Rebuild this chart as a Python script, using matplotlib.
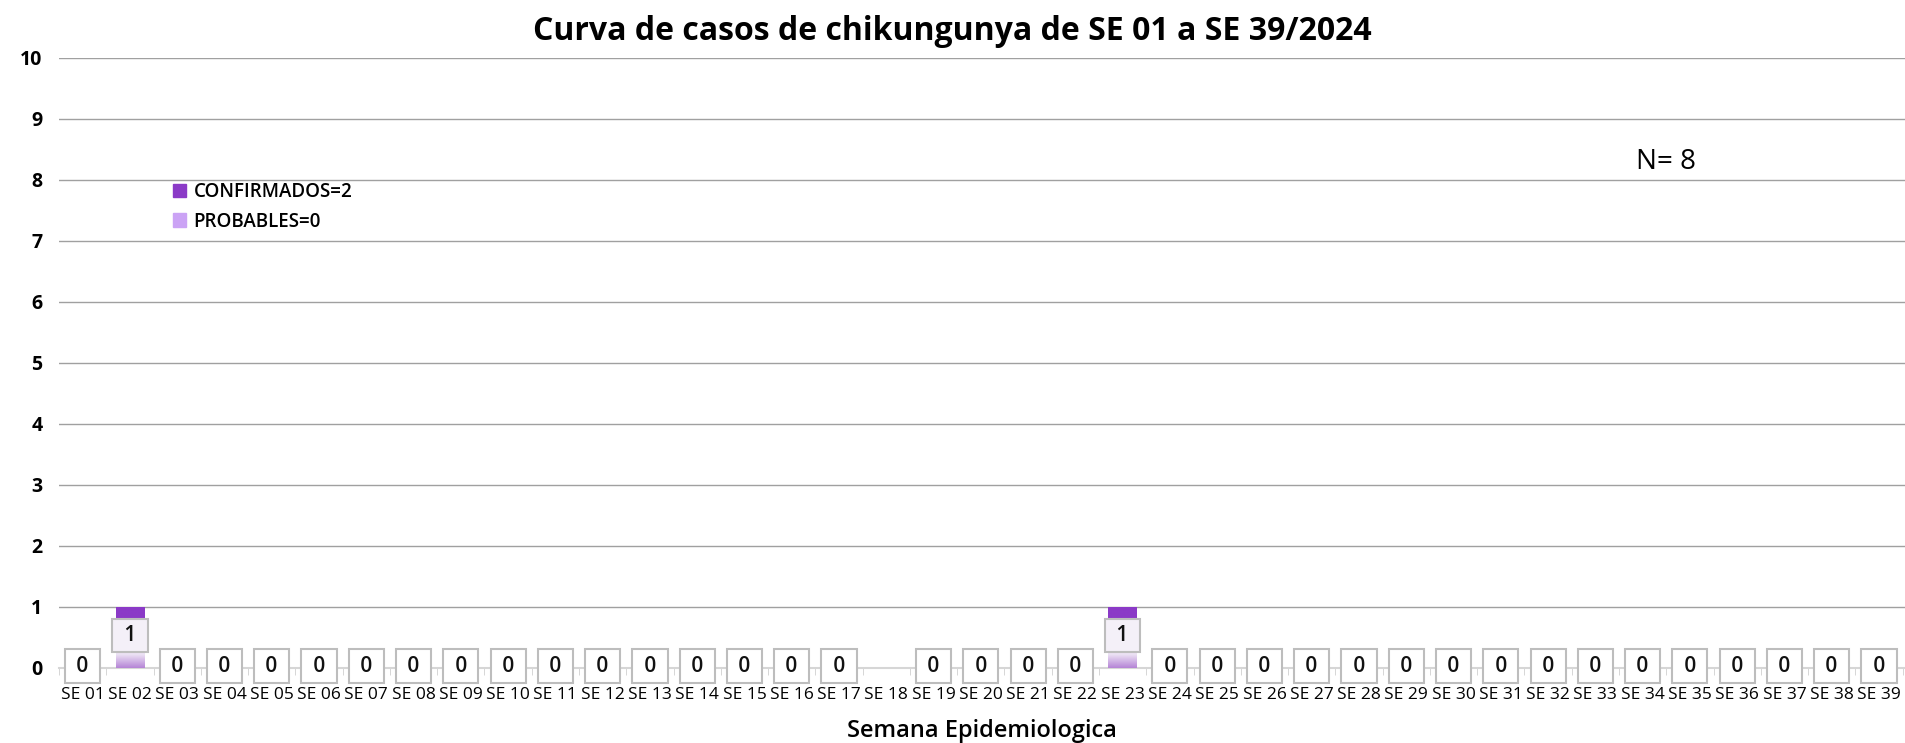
import matplotlib.pyplot as plt
import numpy as np
from matplotlib.colors import LinearSegmentedColormap
from matplotlib.patches import Patch

plt.rcParams['font.family'] = ['Open Sans', 'DejaVu Sans']

# datos por semana epidemiologica
semanas = ["SE %02d" % i for i in range(1, 40)]
confirmados = [0, 1, 0, 0, 0, 0, 0, 0, 0, 0, 0, 0, 0, 0, 0, 0, 0, None, 0, 0,
               0, 0, 1, 0, 0, 0, 0, 0, 0, 0, 0, 0, 0, 0, 0, 0, 0, 0, 0]
probables = [0, 0, 0, 0, 0, 0, 0, 0, 0, 0, 0, 0, 0, 0, 0, 0, 0, None, 0, 0,
             0, 0, 0, 0, 0, 0, 0, 0, 0, 0, 0, 0, 0, 0, 0, 0, 0, 0, 0]
total_conf = 2
total_prob = 0
n_total = 8

morado = '#8B3AC7'
lila = '#CBA3F5'

fig = plt.figure(figsize=(19.05, 7.43), dpi=100)
ax = fig.add_axes([0.031, 0.101, 0.969, 0.821])

x = np.arange(len(semanas))
conf = np.array([np.nan if v is None else v for v in confirmados], dtype=float)
prob = np.array([np.nan if v is None else v for v in probables], dtype=float)

ax.bar(x, np.nan_to_num(prob), width=0.61, color=lila, zorder=2)
bars = ax.bar(x, np.nan_to_num(conf), width=0.61, bottom=np.nan_to_num(prob),
              color=morado, zorder=2)

# degradado bajo la etiqueta (efecto del grafico original)
cmap = LinearSegmentedColormap.from_list('grad', [(0, '#B584D6'), (0.22, '#ECE2F4'),
                                                  (0.75, '#ECE2F4'), (0.79, morado),
                                                  (1, morado)])
grad = np.linspace(0, 1, 256).reshape(-1, 1)
for b in bars:
    h = b.get_height()
    if h > 0:
        im = ax.imshow(grad, cmap=cmap, aspect='auto', origin='lower', zorder=3,
                       extent=[b.get_x(), b.get_x() + b.get_width(),
                               b.get_y(), b.get_y() + h])
        im.set_clip_path(b)

# etiquetas de valor
for xi, c, p in zip(x, conf, prob):
    if np.isnan(c):
        continue
    tot = c + p
    fc = '#F4F0F8' if tot > 0 else 'white'
    ax.text(xi, tot / 2 + 0.03, " %d " % tot, ha='center', va='center', fontsize=15,
            fontweight='semibold', color='#111111', zorder=5,
            bbox=dict(boxstyle='square,pad=0.3', fc=fc, ec='#BDBDBD', lw=1.5))

ax.set_xlim(-0.5, len(semanas) - 0.45)
ax.set_ylim(0, 10)
ax.set_yticks(range(0, 11))
ax.set_yticklabels([str(i) for i in range(0, 11)], fontsize=14, fontweight='bold')
ax.set_xticks(x)
ax.set_xticklabels(semanas, fontsize=12.5)
ax.set_xticks(np.arange(-0.5, len(semanas), 1), minor=True)
ax.tick_params(axis='x', which='major', length=0, pad=14)
ax.tick_params(axis='x', which='minor', length=5, color='#D0D0D0', direction='out')
ax.tick_params(axis='y', length=0, pad=12)

ax.grid(axis='y', color='#A0A0A0', lw=1, zorder=0)
for s in ['top', 'right', 'left']:
    ax.spines[s].set_visible(False)
ax.spines['bottom'].set_color('#D6D6D6')
ax.spines['bottom'].set_linewidth(1.5)

ax.set_xlabel('Semana Epidemiologica', fontsize=17, fontweight='semibold', labelpad=11)
fig.suptitle('Curva de casos de chikungunya de SE 01 a SE 39/2024', fontsize=23,
             fontweight='bold', y=0.98)

handles = [Patch(color=morado, label='CONFIRMADOS=%d' % total_conf),
           Patch(color=lila, label='PROBABLES=%d' % total_prob)]
leg = ax.legend(handles=handles, loc='upper left', bbox_to_anchor=(1.55, 8.24),
                bbox_transform=ax.transData, frameon=False, handlelength=0.7,
                handleheight=0.7, handletextpad=0.4, labelspacing=0.5,
                prop={'size': 13.5, 'weight': 'semibold'})

ax.text(33.5, 8.3, 'N= %d' % n_total, fontsize=20, ha='center', va='center')

plt.savefig('out.png', dpi=100)
